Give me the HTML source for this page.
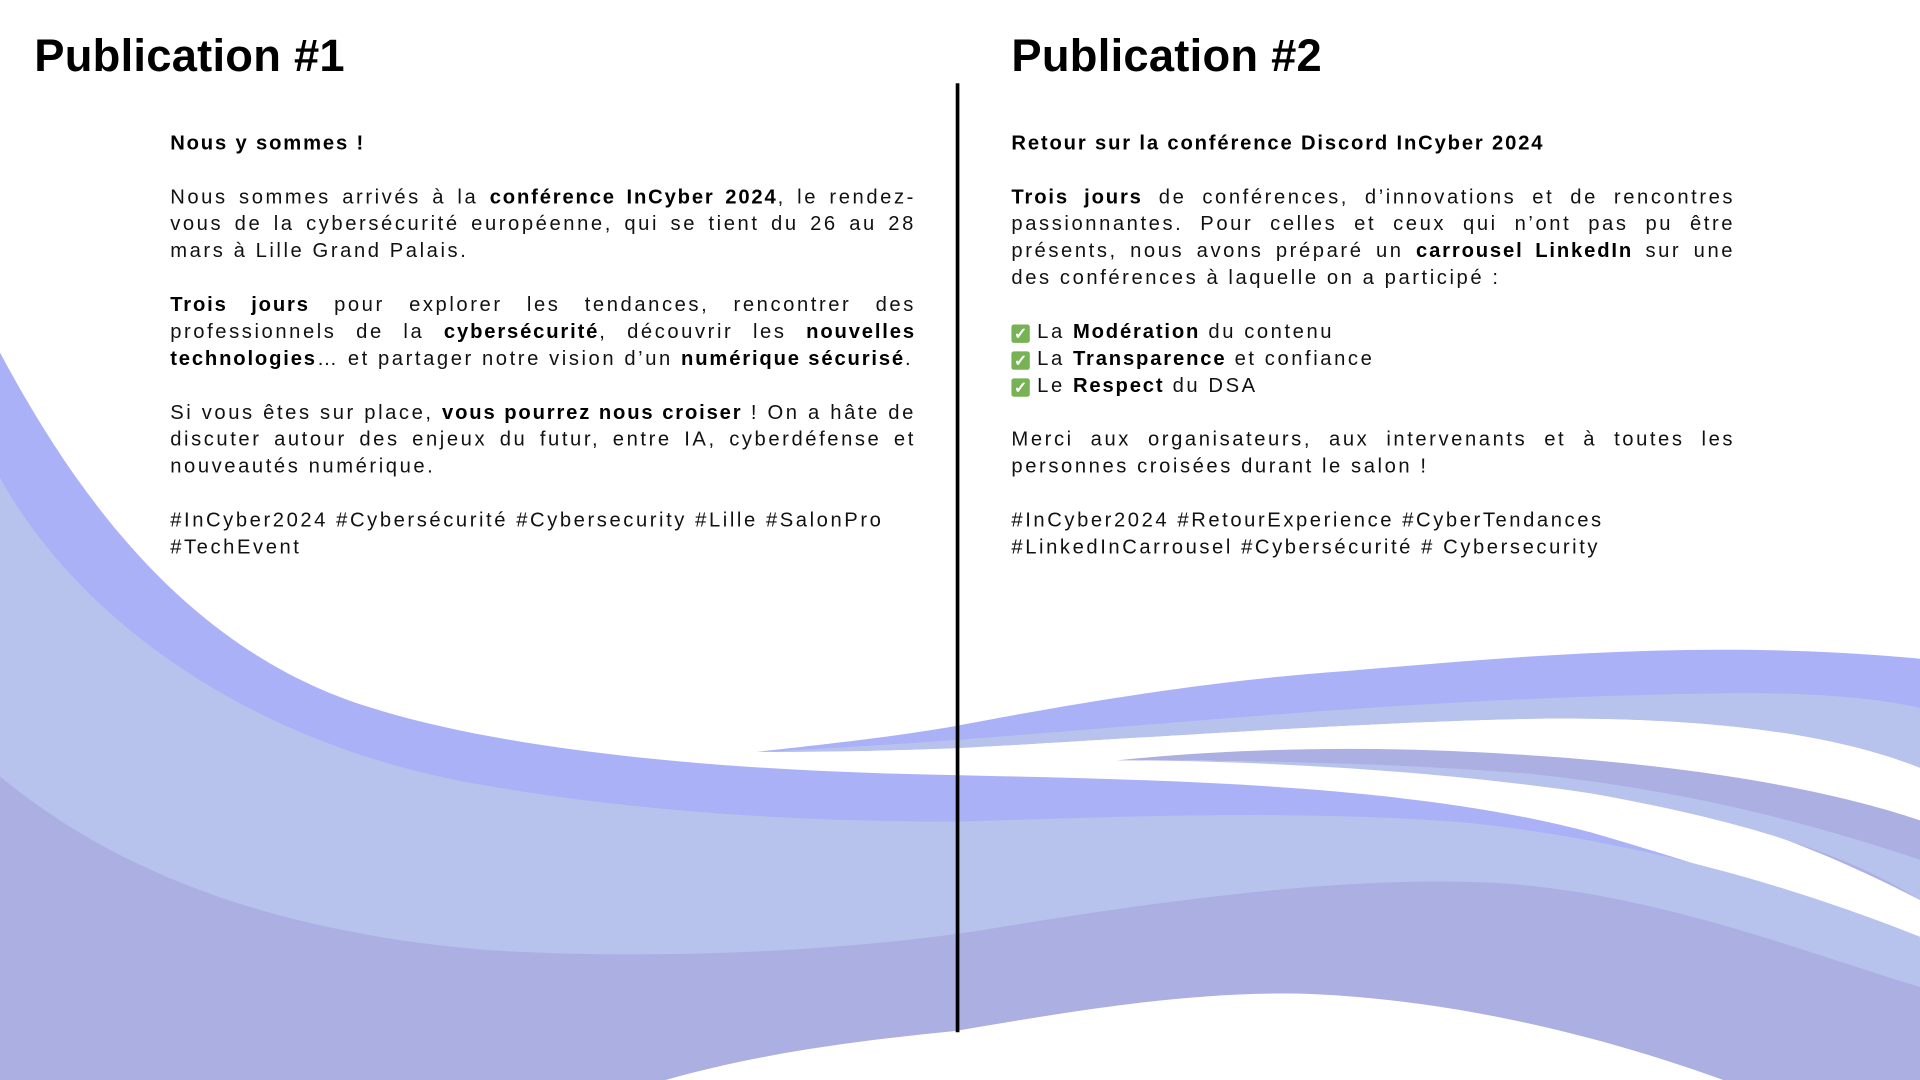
<!DOCTYPE html>
<html><head><meta charset="utf-8"><style>
html,body{margin:0;padding:0;background:#fff;width:1920px;height:1080px;overflow:hidden}
#stage{position:absolute;left:0;top:0;width:1568px;height:882px;transform:scale(1.22449);transform-origin:0 0;font-family:"Liberation Sans",sans-serif;color:#111}
svg{position:absolute;left:0;top:0}
.h{position:absolute;top:24px;font-size:37px;font-weight:bold;color:#000;letter-spacing:0.2px;line-height:44px}
.l{position:absolute;height:22px;line-height:22px;font-size:16.5px;letter-spacing:2.1px;white-space:nowrap;overflow:visible}
.j{text-align:justify;text-align-last:justify;white-space:normal}
b{font-weight:bold;color:#000;letter-spacing:1.5px}
.L{left:139px;width:609px}
.R{left:826px;width:591px}
.ck{display:inline-block;width:15px;height:15px;background:#77b255;border-radius:2px;color:#fff;font-size:13px;line-height:15px;text-align:center;vertical-align:-1px;margin-right:6px;font-weight:bold;letter-spacing:0}
</style></head><body>
<div id="stage">
<svg width="1568" height="882" viewBox="0 0 1568 882">
<path fill="#aab1f6" d="M0,288 C60,400 150,530 300,577 C420,615 600,630 780,633 C950,637 1150,640 1300,680 C1420,715 1520,750 1568,770 L1568,882 L0,882 Z"/>
<path fill="#b7c3ec" d="M0,390 C60,500 200,610 400,642 C550,668 700,671 780,671 C900,668 1050,660 1200,672 C1350,688 1480,730 1568,765 L1568,882 L0,882 Z"/>
<path fill="#abafe1" d="M0,634 C80,700 200,760 400,776 C550,785 700,775 800,760 C950,735 1100,715 1220,721 C1350,728 1480,780 1568,806 L1568,882 L0,882 Z"/>
<path fill="#fff" d="M540,883 C620,860 700,850 780,842 C880,825 980,808 1075,812 C1200,818 1320,850 1410,883 Z"/>
<path fill="#aab1f6" d="M618,614 C700,605 740,600 780,593 C900,570 1000,555 1100,548 C1250,535 1400,522 1568,538 L1568,627 C1500,600 1400,585 1250,587 C1100,590 900,605 780,611 C700,614 650,614 618,614 Z"/>
<path fill="#b7c3ec" d="M640,613 C900,600 1100,570 1420,566 C1500,566 1540,572 1568,578 L1568,627 C1500,600 1400,585 1250,587 C1100,590 900,605 780,611 C700,614 660,614 640,613 Z"/>
<path fill="#abafe1" d="M912,621 C1000,612 1100,609 1200,614 C1350,621 1480,640 1568,670 L1568,735 C1500,700 1400,655 1250,632 C1100,622 1000,621 912,621 Z"/>
<path fill="#b7c3ec" d="M912,621 C1050,621 1150,624 1250,632 C1400,648 1500,680 1568,702 L1568,735 C1520,705 1450,675 1300,648 C1150,626 1000,621 912,621 Z"/>
<rect x="780.5" y="68" width="3" height="775" fill="#000"/>
</svg>

<div class="h" style="left:28px">Publication #1</div>
<div class="h" style="left:826px">Publication #2</div>

<div>
<div class="l L" style="top:106px"><b>Nous y sommes !</b></div>
<div class="l L j" style="top:150px">Nous sommes arrivés à la <b>conférence InCyber 2024</b>, le rendez-</div>
<div class="l L j" style="top:172px">vous de la cybersécurité européenne, qui se tient du 26 au 28</div>
<div class="l L" style="top:194px">mars à Lille Grand Palais.</div>
<div class="l L j" style="top:238px"><b>Trois jours</b> pour explorer les tendances, rencontrer des</div>
<div class="l L j" style="top:260px">professionnels de la <b>cybersécurité</b>, découvrir les <b>nouvelles</b></div>
<div class="l L" style="top:282px"><b>technologies</b>… et partager notre vision d’un <b>numérique sécurisé</b>.</div>
<div class="l L j" style="top:326px">Si vous êtes sur place, <b>vous pourrez nous croiser</b> ! On a hâte de</div>
<div class="l L j" style="top:348px">discuter autour des enjeux du futur, entre IA, cyberdéfense et</div>
<div class="l L" style="top:370px">nouveautés numérique.</div>
<div class="l L" style="top:414px">#InCyber2024 #Cybersécurité #Cybersecurity #Lille #SalonPro</div>
<div class="l L" style="top:436px">#TechEvent</div>
</div>

<div>
<div class="l R" style="top:106px"><b>Retour sur la conférence Discord InCyber 2024</b></div>
<div class="l R j" style="top:150px"><b>Trois jours</b> de conférences, d’innovations et de rencontres</div>
<div class="l R j" style="top:172px">passionnantes. Pour celles et ceux qui n’ont pas pu être</div>
<div class="l R j" style="top:194px">présents, nous avons préparé un <b>carrousel LinkedIn</b> sur une</div>
<div class="l R" style="top:216px">des conférences à laquelle on a participé :</div>
<div class="l R" style="top:260px"><span class="ck">✓</span>La <b>Modération</b> du contenu</div>
<div class="l R" style="top:282px"><span class="ck">✓</span>La <b>Transparence</b> et confiance</div>
<div class="l R" style="top:304px"><span class="ck">✓</span>Le <b>Respect</b> du DSA</div>
<div class="l R j" style="top:348px">Merci aux organisateurs, aux intervenants et à toutes les</div>
<div class="l R" style="top:370px">personnes croisées durant le salon !</div>
<div class="l R" style="top:414px">#InCyber2024 #RetourExperience #CyberTendances</div>
<div class="l R" style="top:436px">#LinkedInCarrousel #Cybersécurité # Cybersecurity</div>
</div>
</div>
</body></html>
